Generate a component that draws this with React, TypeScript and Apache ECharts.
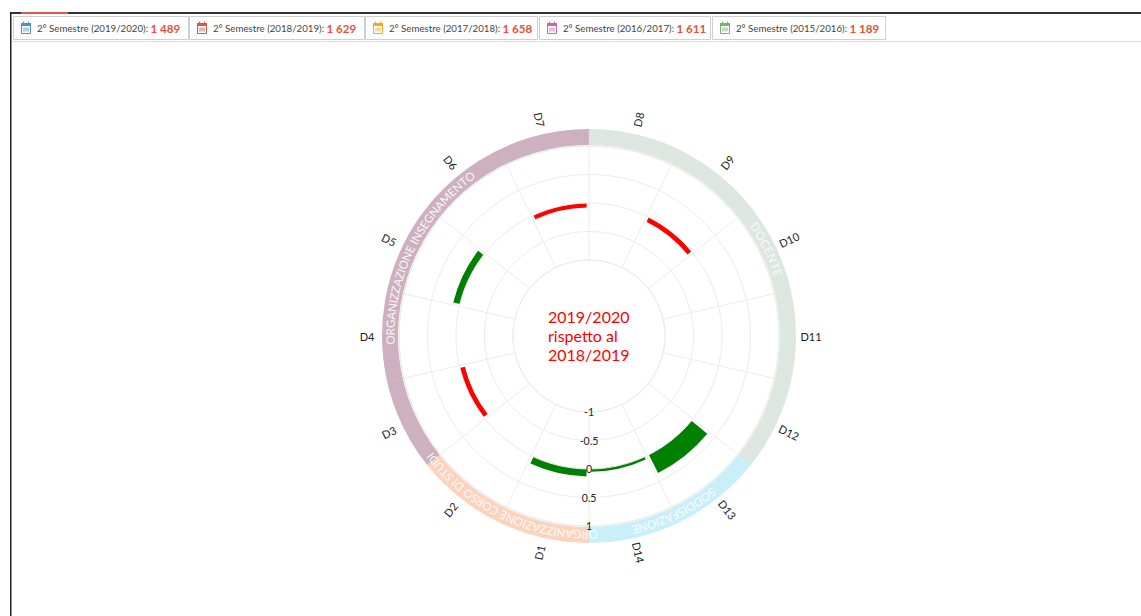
import React, { useEffect, useRef } from "react";
import * as echarts from "echarts";

const categories = ["D1","D2","D3","D4","D5","D6","D7","D8","D9","D10","D11","D12","D13","D14"];
const deltas = [0.13, 0, -0.09, 0, 0.12, 0, -0.08, 0, -0.09, 0, 0, 0, 0.36, 0.05];

const groupNames = ["ORGANIZZAZIONE CORSO DI STUDI", "ORGANIZZAZIONE INSEGNAMENTO", "DOCENTE", "SODDISFAZIONE"];
const groupSizes = [2, 5, 5, 2];
const groupColors = ["#fcd3bd", "#cdb1c0", "#dde6df", "#c9eff9"];
const groupTextStart = [177.5, 267.5, 55.5, 141];
const groupTextEnd = [233.5, 324.5, 72.5, 167.5];

const tabLabels = ["2° Semestre (2019/2020): ", "2° Semestre (2018/2019): ", "2° Semestre (2017/2018): ", "2° Semestre (2016/2017): ", "2° Semestre (2015/2016): "];
const tabValues = ["1 489", "1 629", "1 658", "1 611", "1 189"];
const tabColors = ["#4a8fcb", "#d9534f", "#f5a623", "#c765ab", "#77b36a"];
const tabLefts = [13, 189, 365, 539, 712];
const tabRights = [188, 364, 537, 710, 885];

const centerLines = ["2019/2020", "rispetto al", "2018/2019"];

const FONT = "Lato, 'Open Sans', sans-serif";
const CX = 589;
const CY = 336;
const DEG = Math.PI / 180;

function polarPoint(angle: number, r: number) {
  return { x: CX + r * Math.sin(angle * DEG), y: CY - r * Math.cos(angle * DEG) };
}

function curvedText(text: string, start: number, end: number, r: number) {
  const ctx = document.createElement("canvas").getContext("2d")!;
  const font = `11.5px ${FONT}`;
  ctx.font = font;
  const widths = Array.from(text).map((c) => ctx.measureText(c).width);
  const total = widths.reduce((a, b) => a + b, 0);
  const span = end - start;
  let pos = 0;
  return Array.from(text).map((ch, i) => {
    const a = start + ((pos + widths[i] / 2) / total) * span;
    pos += widths[i];
    const p = polarPoint(a, r);
    return {
      type: "text", x: p.x, y: p.y, rotation: -a * DEG, z: 20, silent: true,
      style: { text: ch, font, fill: "rgba(255,255,255,0.9)", align: "center", verticalAlign: "middle" },
    };
  });
}

function radialLabels() {
  return categories.map((c, i) => {
    const a = 180 + ((i + 0.5) * 360) / categories.length;
    const norm = a % 360;
    const p = polarPoint(norm, 222);
    const rot = norm < 180 ? 90 - norm : 270 - norm;
    return {
      type: "text", x: p.x, y: p.y, rotation: rot * DEG, z: 20, silent: true,
      style: { text: c, font: `11px ${FONT}`, fill: "#222", align: "center", verticalAlign: "middle" },
    };
  });
}

function tabs() {
  const out: any[] = [];
  tabLabels.forEach((label, i) => {
    const x = tabLefts[i];
    const w = tabRights[i] - x;
    const col = tabColors[i];
    out.push({ type: "rect", z: 20, silent: true, shape: { x: x + 0.5, y: 16.5, width: w, height: 23 }, style: { fill: "#fff", stroke: "#cfcfcf", lineWidth: 1 } });
    out.push({ type: "rect", z: 21, silent: true, shape: { x: x + 8.5, y: 23.5, width: 9, height: 10 }, style: { fill: "rgba(255,255,255,0)", stroke: col, lineWidth: 1 } });
    out.push({ type: "rect", z: 21, silent: true, shape: { x: x + 8, y: 23, width: 10, height: 3 }, style: { fill: col } });
    out.push({ type: "rect", z: 21, silent: true, shape: { x: x + 10, y: 21.5, width: 1, height: 2 }, style: { fill: col } });
    out.push({ type: "rect", z: 21, silent: true, shape: { x: x + 15, y: 21.5, width: 1, height: 2 }, style: { fill: col } });
    out.push({ type: "rect", z: 21, silent: true, shape: { x: x + 10, y: 27.5, width: 6, height: 4 }, style: { fill: col, opacity: 0.45 } });
    out.push({
      type: "text", x: x + 24, y: 28, z: 21, silent: true,
      style: {
        text: `{a|${label}}{b|${tabValues[i]}}`,
        verticalAlign: "middle", align: "left",
        rich: {
          a: { font: `9.7px ${FONT}`, fill: "#444" },
          b: { font: `bold 11.6px ${FONT}`, fill: "#e8503a" },
        },
      },
    });
  });
  return out;
}

export default function App() {
  const ref = useRef<HTMLDivElement>(null);
  useEffect(() => {
    document.body.style.margin = "0";
    const chart = echarts.init(ref.current!, undefined, { renderer: "svg" });
    const grid = "#ececec";
    chart.setOption({
      animation: false,
      backgroundColor: "#fff",
      polar: { center: [CX, CY], radius: [76, 190] },
      angleAxis: {
        type: "category",
        data: categories,
        startAngle: -90,
        clockwise: true,
        boundaryGap: true,
        z: 5,
        axisLine: { show: true, lineStyle: { color: grid, width: 1 } },
        axisTick: { show: true, length: 20, lineStyle: { color: "rgba(225,225,225,0.2)", width: 1 } },
        axisLabel: { show: false },
        splitLine: { show: true, lineStyle: { color: grid, width: 1 } },
      },
      radiusAxis: {
        type: "value",
        min: -1,
        max: 1,
        interval: 0.5,
        z: 12,
        axisLine: { show: false },
        axisTick: { show: false },
        axisLabel: { show: true, margin: 0, align: "center", verticalAlign: "middle", color: "#222", fontSize: 10.5, fontFamily: FONT },
        splitLine: { show: true, lineStyle: { color: grid, width: 1 } },
      },
      series: [
        {
          type: "pie",
          z: 1,
          silent: true,
          center: [CX, CY],
          radius: [191, 207],
          startAngle: 270,
          clockwise: true,
          label: { show: false },
          labelLine: { show: false },
          data: groupNames.map((name, i) => ({ name, value: groupSizes[i], itemStyle: { color: groupColors[i] } })),
        },
        {
          type: "bar",
          coordinateSystem: "polar",
          z: 10,
          silent: true,
          barCategoryGap: "8%",
          data: deltas.map((v) => ({ value: v, itemStyle: { color: v < 0 ? "#ff0000" : "#008000" } })),
        },
      ],
      graphic: {
        elements: [
          { type: "rect", z: 20, silent: true, shape: { x: 11, y: 12, width: 1130, height: 2 }, style: { fill: "#333" } },
          { type: "rect", z: 21, silent: true, shape: { x: 21, y: 12, width: 47, height: 2 }, style: { fill: "#e8564a" } },
          { type: "rect", z: 20, silent: true, shape: { x: 10, y: 12, width: 1.5, height: 604 }, style: { fill: "#222" } },
          { type: "rect", z: 20, silent: true, shape: { x: 12, y: 41, width: 1129, height: 1 }, style: { fill: "#ddd" } },
          ...tabs(),
          ...radialLabels(),
          ...groupNames.flatMap((n, i) => curvedText(n, groupTextStart[i], groupTextEnd[i], 199)),
          ...centerLines.map((t, i) => ({
            type: "text", x: 548, y: 316 + i * 19, z: 20, silent: true,
            style: { text: t, font: `16px ${FONT}`, fill: "#ff0000", align: "left", verticalAlign: "middle" },
          })),
        ],
      },
    });
    return () => chart.dispose();
  }, []);
  return <div ref={ref} style={{ width: 1141, height: 616 }} />;
}
